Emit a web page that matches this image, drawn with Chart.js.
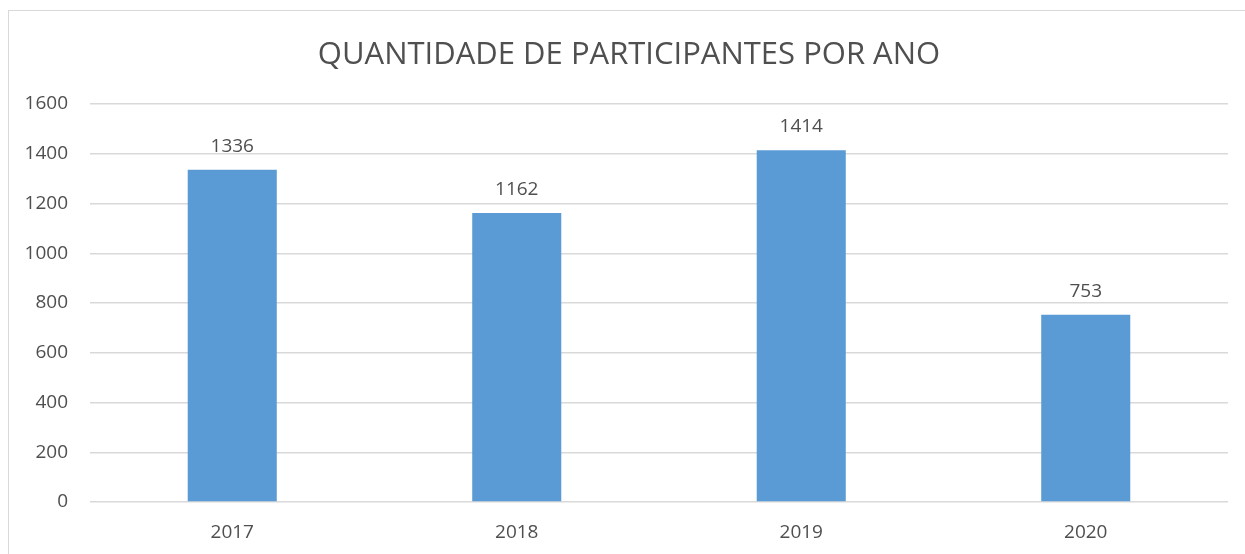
<!DOCTYPE html>
<html>
<head>
<meta charset="utf-8">
<script src="https://cdn.jsdelivr.net/npm/chart.js@4/dist/chart.umd.min.js"></script>
<style>
html,body{margin:0;padding:0;background:#fff;}
#wrap{width:1245px;height:554px;position:relative;}
</style>
</head>
<body>
<div id="wrap"><canvas id="c" width="1245" height="554"></canvas></div>
<script>
const titleText = "QUANTIDADE DE PARTICIPANTES POR ANO";
const categories = ["2017", "2018", "2019", "2020"];
const participants = [1336, 1162, 1414, 753];
const yTicks = [0, 200, 400, 600, 800, 1000, 1200, 1400, 1600];

const FONT = "'Open Sans', sans-serif";
const TEXT = "#4F4F4F";

const decor = {
  id: "decor",
  beforeDraw(chart) {
    const ctx = chart.ctx;
    ctx.save();
    ctx.fillStyle = "#fff";
    ctx.fillRect(0, 0, chart.width, chart.height);
    ctx.strokeStyle = "#D9D9D9";
    ctx.lineWidth = 1;
    ctx.strokeRect(8.5, 10.5, 1245, 600);
    ctx.fillStyle = TEXT;
    ctx.font = "31px " + FONT;
    ctx.textAlign = "center";
    ctx.textBaseline = "middle";
    ctx.fillText(titleText, 629, 55);
    ctx.restore();
  },
  afterDatasetsDraw(chart) {
    const ctx = chart.ctx;
    const meta = chart.getDatasetMeta(0);
    ctx.save();
    ctx.fillStyle = TEXT;
    ctx.font = "19px " + FONT;
    ctx.textAlign = "center";
    ctx.textBaseline = "bottom";
    meta.data.forEach((bar, i) => {
      ctx.fillText(String(chart.data.datasets[0].data[i]), bar.x, bar.y - 14);
    });
    ctx.restore();
  }
};

new Chart(document.getElementById("c"), {
  type: "bar",
  data: {
    labels: categories,
    datasets: [{
      data: participants,
      backgroundColor: "#5B9BD5",
      borderWidth: 0,
      barPercentage: 1,
      categoryPercentage: 0.313
    }]
  },
  options: {
    responsive: false,
    animation: false,
    devicePixelRatio: 1,
    layout: { padding: { top: 104, right: 17, bottom: 0, left: 0 } },
    plugins: { legend: { display: false }, title: { display: false }, tooltip: { enabled: false } },
    scales: {
      x: {
        grid: { display: false, drawTicks: false },
        border: { display: false },
        ticks: { color: TEXT, font: { family: FONT, size: 19 }, padding: 19 },
        afterFit(scale) { scale.height = 52; }
      },
      y: {
        min: 0, max: 1600,
        afterBuildTicks(scale) { scale.ticks = yTicks.map(v => ({ value: v })); },
        grid: { color: "#D9D9D9", lineWidth: 1.5, drawTicks: false },
        border: { display: false },
        ticks: { color: TEXT, font: { family: FONT, size: 19 }, padding: 22, callback: v => String(v) },
        afterFit(scale) { scale.width = 90; }
      }
    }
  },
  plugins: [decor]
});
</script>
</body>
</html>
